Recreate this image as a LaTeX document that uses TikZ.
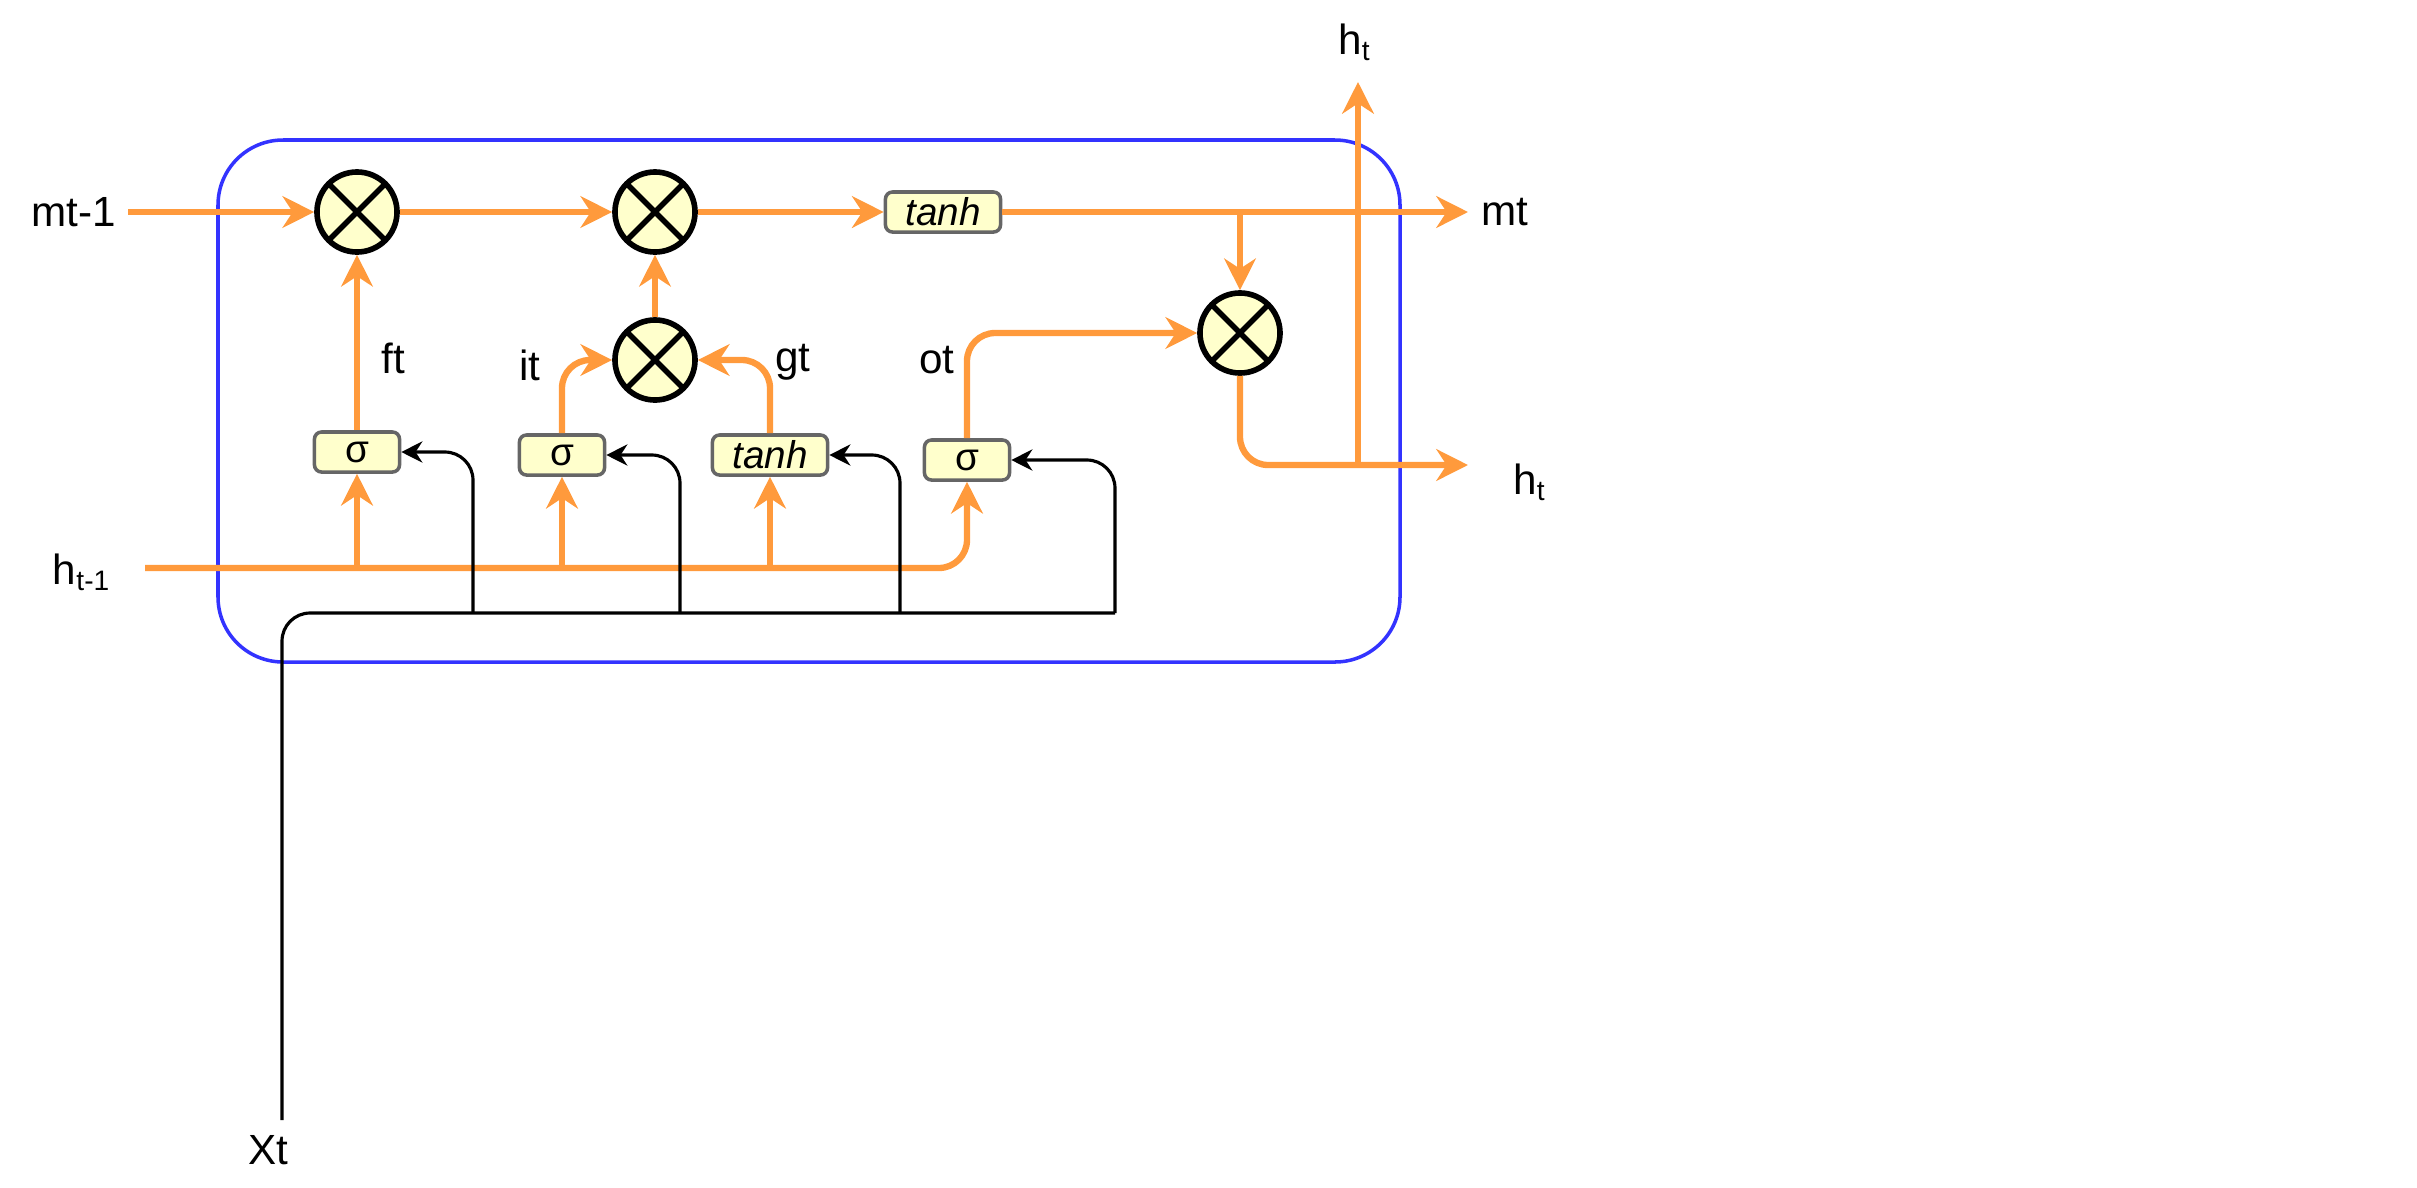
\documentclass[tikz,border=0pt]{standalone}
\usepackage{fontspec}
\setmainfont{Liberation Sans}
\usetikzlibrary{arrows.meta}
\definecolor{org}{HTML}{FF9A3C}
\definecolor{fillc}{HTML}{FFFFCC}
\definecolor{blu}{HTML}{3333FF}
\begin{document}
\begin{tikzpicture}[x=0.01cm,y=-0.01cm,
  mul/.style={circle,draw=black,line width=1.6pt,fill=fillc,minimum size=0.8cm,inner sep=0pt,path picture={\draw[line width=1.6pt] ([shift={(0.12cm,-0.12cm)}]path picture bounding box.north west)--([shift={(-0.12cm,0.12cm)}]path picture bounding box.south east) ([shift={(-0.12cm,-0.12cm)}]path picture bounding box.north east)--([shift={(0.12cm,0.12cm)}]path picture bounding box.south west);}},
  gate/.style={rectangle,rounded corners=2pt,draw=gray!80!black,line width=1pt,fill=fillc,minimum height=0.4cm,inner sep=1pt,font=\fontsize{11}{12}\selectfont},
  lab/.style={font=\fontsize{12}{14}\selectfont},
  or/.style={draw=org,line width=1.8pt,-{Stealth[length=9pt,width=9pt]},rounded corners=8pt},
  bk/.style={draw=black,line width=0.9pt,-{Stealth[length=6pt,width=6pt]},rounded corners=8pt},
  bl/.style={draw=black,line width=0.9pt,rounded corners=8pt}]
\useasboundingbox (0,0) rectangle (2417,1187);
\draw[blu,line width=1pt,rounded corners=0.65cm] (218,140) rectangle (1400,662);
\node[mul] (m1) at (357,212) {};
\node[mul] (m2) at (655,212) {};
\node[mul] (m3) at (655,360) {};
\node[mul] (m4) at (1240,333) {};
\node[gate,minimum width=1.15cm] (t1) at (943,212) {\textit{tanh}};
\node[gate,minimum width=0.85cm] (s1) at (357,452) {σ};
\node[gate,minimum width=0.85cm] (s2) at (562,455) {σ};
\node[gate,minimum width=1.15cm] (t2) at (770,455) {\textit{tanh}};
\node[gate,minimum width=0.85cm] (s4) at (967,460) {σ};
\node[lab,anchor=east] (lm) at (128,212) {mt-1};
\node[lab] (lmt) at (1505,212) {mt};
\node[lab] (lh1) at (82,572) {h\textsubscript{t-1}};
\node[lab] (lht) at (1530,482) {h\textsubscript{t}};
\node[lab] (lht2) at (1355,42) {h\textsubscript{t}};
\node[lab] (lx) at (268,1150) {Xt};
\node[lab] at (393,358) {ft};
\node[lab] at (530,365) {it};
\node[lab] at (793,362) {gt};
\node[lab] at (937,360) {ot};
\coordinate (mtend) at (1468,212);
\coordinate (htend) at (1468,465);
\coordinate (ht2end) at (1358,82);
\coordinate (hstart) at (145,568);
\coordinate (tap) at (1240,212);
% orange
\draw[or] (lm.east) -- (m1);
\draw[or] (m1) -- (m2);
\draw[or] (m2) -- (t1);
\draw[or] (t1) -- (mtend);
\draw[or] (tap) -- (m4);
\draw[or] (m3) -- (m2);
\draw[or] (s1) -- (m1);
\draw[or] (s2.north) |- (m3.west);
\draw[or] (t2.north) |- (m3.east);
\draw[or] (s4.north) |- (m4.west);
\draw[or] (m4.south) |- (htend);
\draw[or] (1358,465) -- (ht2end);
\draw[or] (hstart) -| (s4.south);
\draw[or] (s1.south |- hstart) -- (s1.south);
\draw[or] (s2.south |- hstart) -- (s2.south);
\draw[or] (t2.south |- hstart) -- (t2.south);
% black
\draw[bl] (282,1120) |- (1115,613);
\draw[bk] (1115,613) |- (s4.east);
\draw[bk] (473,613) |- (s1.east);
\draw[bk] (680,613) |- (s2.east);
\draw[bk] (900,613) |- (t2.east);
\end{tikzpicture}
\end{document}
